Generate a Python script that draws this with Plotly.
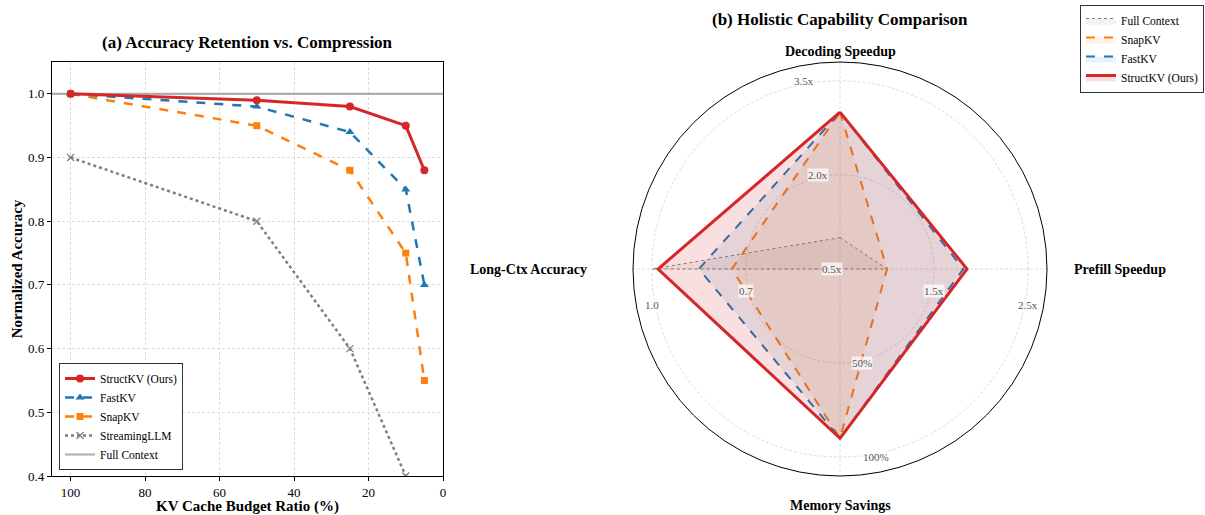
import plotly.graph_objects as go

# ---------------- data: panel (a) ----------------
budget_ratio = [100, 50, 25, 10, 5]
structkv_acc = [1.00, 0.99, 0.98, 0.95, 0.88]
fastkv_acc = [1.00, 0.98, 0.94, 0.85, 0.70]
snapkv_acc = [1.00, 0.95, 0.88, 0.75, 0.55]
streaming_acc = [0.90, 0.80, 0.60, 0.40, 0.25]
full_context_acc = 1.0
x_range = [105, 0]
y_range = [0.4, 1.05]
x_ticks = [100, 80, 60, 40, 20, 0]
y_ticks = [0.4, 0.5, 0.6, 0.7, 0.8, 0.9, 1.0]

# ---------------- data: panel (b) ----------------
radar_axes = ["Decoding Speedup", "Prefill Speedup", "Memory Savings", "Long-Ctx Accuracy"]
axis_min = [0.5, 0.5, 0.0, 0.4]
axis_max = [3.5, 2.5, 100.0, 1.0]
radar_full = [1.0, 1.0, 0.0, 1.0]
radar_snap = [3.0, 1.0, 90.0, 0.745]
radar_fast = [3.0, 1.81, 90.0, 0.85]
radar_struct = [3.0, 1.85, 90.0, 0.98]
# tick labels per axis: (axis index, value, text)
radar_tick_labels = [
    (0, 3.5, "3.5x"), (0, 2.0, "2.0x"), (0, 0.5, "0.5x"),
    (1, 1.5, "1.5x"), (1, 2.5, "2.5x"),
    (3, 0.7, "0.7"), (3, 1.0, "1.0"),
    (2, 50.0, "50%"), (2, 100.0, "100%"),
]

RED = "#d62728"
BLUE = "#1f77b4"
ORANGE = "#ff7f0e"
GRAY = "#7f7f7f"
SERIF = "Liberation Serif, Times New Roman, serif"

W, H = 1205, 515


def norm(vals):
    return [(v - lo) / (hi - lo) for v, lo, hi in zip(vals, axis_min, axis_max)]


def closed(lst):
    return list(lst) + [lst[0]]


fig = go.Figure()

# ---------- panel (a) ----------
fig.add_trace(go.Scatter(
    x=x_range, y=[full_context_acc, full_context_acc], mode="lines",
    line=dict(color="rgba(127,127,127,0.6)", width=2.2),
    name="Full Context", legend="legend", legendrank=5,
    xaxis="x", yaxis="y", hoverinfo="skip"))
fig.add_trace(go.Scatter(
    x=budget_ratio, y=streaming_acc, mode="lines+markers",
    line=dict(color=GRAY, width=2.5, dash="dot"),
    marker=dict(symbol="x-thin", size=7, line=dict(color=GRAY, width=1.3), color=GRAY),
    name="StreamingLLM", legend="legend", legendrank=4, xaxis="x", yaxis="y"))
fig.add_trace(go.Scatter(
    x=budget_ratio, y=snapkv_acc, mode="lines+markers",
    line=dict(color=ORANGE, width=2.5, dash="dash"),
    marker=dict(symbol="square", size=7, color=ORANGE),
    name="SnapKV", legend="legend", legendrank=3, xaxis="x", yaxis="y"))
fig.add_trace(go.Scatter(
    x=budget_ratio, y=fastkv_acc, mode="lines+markers",
    line=dict(color=BLUE, width=2.5, dash="dash"),
    marker=dict(symbol="triangle-up", size=8, color=BLUE),
    name="FastKV", legend="legend", legendrank=2, xaxis="x", yaxis="y"))
fig.add_trace(go.Scatter(
    x=budget_ratio, y=structkv_acc, mode="lines+markers",
    line=dict(color=RED, width=3),
    marker=dict(symbol="circle", size=8, color=RED),
    name="StructKV (Ours)", legend="legend", legendrank=1, xaxis="x", yaxis="y"))

# ---------- panel (b) ----------
theta = closed(radar_axes)
radar_specs = [
    ("Full Context", radar_full, dict(color=GRAY, width=1, dash="dot"), "rgba(127,127,127,0.10)"),
    ("SnapKV", radar_snap, dict(color=ORANGE, width=2, dash="dash"), "rgba(255,127,14,0.10)"),
    ("FastKV", radar_fast, dict(color=BLUE, width=2, dash="dash"), "rgba(31,119,180,0.10)"),
    ("StructKV (Ours)", radar_struct, dict(color=RED, width=3), "rgba(214,39,40,0.15)"),
]
for name, vals, line, fillc in radar_specs:
    fig.add_trace(go.Scatterpolar(
        r=closed(norm(vals)), theta=theta, mode="lines", fill="toself",
        fillcolor=fillc, line=line, name=name, legend="legend2", subplot="polar"))

# geometry (pixels) of the panels
A_L, A_R, A_T, A_B = 52, 443, 62, 476
P_CX, P_CY, P_R = 840, 269, 207
R_MAX = 1.1
r_unit = P_R / R_MAX


def px(xp):
    return xp / W


def py(yp):
    return 1 - yp / H


def ann(text, xp, yp, **kw):
    d = dict(text=text, x=px(xp), y=py(yp), xref="paper", yref="paper",
             xanchor="center", yanchor="middle", showarrow=False)
    d.update(kw)
    return d


annotations = [
    ann("<b>(a) Accuracy Retention vs. Compression</b>", 247, 42,
        font=dict(size=17, family=SERIF, color="black")),
    ann("<b>(b) Holistic Capability Comparison</b>", 840, 20,
        font=dict(size=17, family=SERIF, color="black")),
]

# axis name labels around the radar
label_pos = {
    "Decoding Speedup": (840, 51),
    "Prefill Speedup": (1120, 269),
    "Memory Savings": (840, 505),
    "Long-Ctx Accuracy": (528, 269),
}
for nm in radar_axes:
    lx, ly = label_pos[nm]
    annotations.append(ann(f"<b>{nm}</b>", lx, ly, font=dict(size=14, family=SERIF, color="black")))

# radial tick labels: direction of each axis (dx, dy screen) and the side the label sits on
axis_dir = [(0, -1), (1, 0), (0, 1), (-1, 0)]
axis_side = [(-1, 0), (0, 1), (1, 0), (0, 1)]
for ai, val, txt in radar_tick_labels:
    rn = (val - axis_min[ai]) / (axis_max[ai] - axis_min[ai])
    rp = rn * r_unit
    off = 8 + 0.15 * rp
    dx, dy = axis_dir[ai]
    sx, sy = axis_side[ai]
    xpix = P_CX + dx * rp + sx * off
    ypix = P_CY + dy * rp + sy * off
    annotations.append(ann(txt, xpix, ypix, bgcolor="rgba(255,255,255,0.7)", borderpad=0,
                           font=dict(size=11, family=SERIF, color="#555555")))

grid_col = "#dcdcdc"
fig.update_layout(
    width=W, height=H,
    margin=dict(l=0, r=0, t=0, b=0, autoexpand=False),
    paper_bgcolor="white", plot_bgcolor="white",
    font=dict(family=SERIF, color="black"),
    xaxis=dict(domain=[px(A_L), px(A_R)], range=x_range, tickvals=x_ticks, automargin=False,
               showgrid=True, gridcolor=grid_col, griddash="3px,2px", gridwidth=1,
               showline=True, mirror=True, linecolor="black", linewidth=1.2,
               ticks="outside", ticklen=4, tickcolor="black", zeroline=False,
               tickfont=dict(size=13, family=SERIF),
               title=dict(text="<b>KV Cache Budget Ratio (%)</b>", font=dict(size=15, family=SERIF), standoff=4)),
    yaxis=dict(domain=[py(A_B), py(A_T)], range=y_range, tickvals=y_ticks, tickformat=".1f", automargin=False,
               showgrid=True, gridcolor=grid_col, griddash="3px,2px", gridwidth=1,
               showline=True, mirror=True, linecolor="black", linewidth=1.2,
               ticks="outside", ticklen=4, tickcolor="black", zeroline=False,
               tickfont=dict(size=13, family=SERIF),
               title=dict(text="<b>Normalized Accuracy</b>", font=dict(size=15, family=SERIF), standoff=1)),
    polar=dict(
        domain=dict(x=[px(P_CX - P_R), px(P_CX + P_R)], y=[py(P_CY + P_R), py(P_CY - P_R)]),
        bgcolor="white",
        angularaxis=dict(rotation=90, direction="clockwise", showticklabels=False, ticks="",
                         showgrid=True, gridcolor=grid_col, griddash="3px,2px", gridwidth=1,
                         showline=True, linecolor="black", linewidth=1),
        radialaxis=dict(range=[0, R_MAX], tickvals=[0.5, 1.0], showticklabels=False, ticks="",
                        showline=False, showgrid=True, gridcolor=grid_col, griddash="3px,2px", gridwidth=1),
    ),
    legend=dict(x=px(59), y=py(470), xanchor="left", yanchor="bottom",
                bgcolor="white", bordercolor="#333333", borderwidth=1,
                font=dict(size=11.5, family=SERIF), tracegroupgap=0, itemwidth=30),
    legend2=dict(x=px(1204), y=py(5), xanchor="right", yanchor="top",
                 bgcolor="white", bordercolor="#333333", borderwidth=1,
                 font=dict(size=11.5, family=SERIF), tracegroupgap=0, itemwidth=30),
    annotations=annotations,
    showlegend=True,
)

fig.write_html("out.html", config={"displayModeBar": False},
               post_script="document.body.style.margin='0px';document.body.style.overflow='hidden';")
